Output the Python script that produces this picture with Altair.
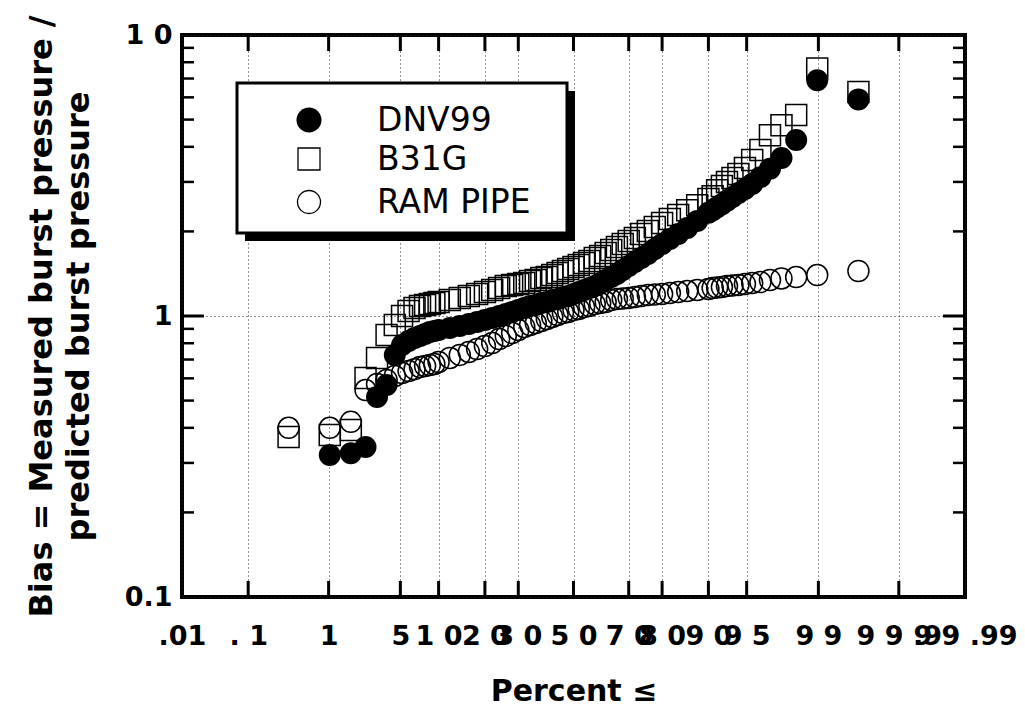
import altair as alt
import pandas as pd
from statistics import NormalDist

# ---------------- data ----------------
percent = [0.34, 1.03, 1.72, 2.41, 3.10, 3.79, 4.48, 5.17, 5.86, 6.55, 7.24, 7.93, 8.62, 9.31, 10.0,
           12, 14, 16, 18, 20, 22, 24, 26, 28, 30, 32, 34, 36, 38, 40, 42, 44, 46, 48, 50,
           52, 54, 56, 58, 60, 62, 64, 66, 68, 70, 72, 74, 76, 78, 80, 82, 84, 86, 88,
           90.0, 90.69, 91.38, 92.07, 92.76, 93.45, 94.14, 94.83, 95.52, 96.21, 96.90, 97.59, 98.28, 98.97, 99.66]

dnv99 = [None, 0.320, 0.325, 0.342, 0.515, 0.568, 0.727, 0.789, 0.815, 0.835, 0.849, 0.863, 0.877, 0.884, 0.892,
         0.906, 0.921, 0.937, 0.952, 0.968, 0.984, 1.0, 1.016, 1.033, 1.050, 1.068, 1.085, 1.094, 1.112, 1.121,
         1.140, 1.150, 1.168, 1.178, 1.197,
         1.217, 1.238, 1.258, 1.279, 1.310, 1.343, 1.376, 1.411, 1.458, 1.506, 1.557, 1.609, 1.662, 1.732,
         1.805, 1.879, 1.958, 2.057, 2.18,
         2.33, 2.38, 2.44, 2.50, 2.57, 2.65, 2.74, 2.83, 2.95, 3.12, 3.34, 3.65, 4.23, 6.9, 5.9]

b31g = [0.371, 0.377, 0.393, 0.602, 0.709, 0.856, 0.929, 1.0, 1.042, 1.068, 1.085, 1.094, 1.103, 1.112, 1.121,
        1.140, 1.159, 1.178, 1.197, 1.217, 1.238, 1.258, 1.279, 1.289, 1.300, 1.310, 1.332, 1.343, 1.365, 1.376,
        1.399, 1.422, 1.446, 1.470, 1.494,
        1.519, 1.544, 1.570, 1.609, 1.635, 1.676, 1.718, 1.760, 1.805, 1.850, 1.896, 1.958, 2.006, 2.074,
        2.143, 2.216, 2.287, 2.38, 2.48,
        2.61, 2.67, 2.80, 2.90, 3.00, 3.10, 3.20, 3.36, 3.59, 3.90, 4.40, 4.77, 5.19, 7.6, 6.27]

ram_pipe = [0.40, 0.40, 0.42, 0.545, 0.573, 0.592, 0.612, 0.627, 0.637, 0.647, 0.658, 0.664, 0.669, 0.675, 0.686,
            0.709, 0.727, 0.745, 0.763, 0.782, 0.801, 0.828, 0.849, 0.870, 0.892, 0.914, 0.929, 0.944, 0.960, 0.976,
            0.992, 1.008, 1.025, 1.033, 1.050,
            1.059, 1.077, 1.085, 1.103, 1.112, 1.121, 1.140, 1.150, 1.154, 1.159, 1.168, 1.178, 1.188, 1.192,
            1.197, 1.207, 1.217, 1.227, 1.238,
            1.248, 1.258, 1.263, 1.268, 1.279, 1.284, 1.289, 1.300, 1.310, 1.321, 1.343, 1.360, 1.376, 1.399, 1.446]

legend_labels = ["DNV99", "B31G", "RAM PIPE"]
tick_percent = [0.01, 0.1, 1, 5, 10, 20, 30, 50, 70, 80, 90, 95, 99, 99.9, 99.99]
tick_text = [".01", ". 1", "1", "5", "1 0", "2 0", "3 0", "5 0", "7 0", "8 0", "9 0",
             "9 5", "9 9", "9 9 .9", "9 9 .99"]
y_ticks = [0.1, 1, 10]
y_title = ["Bias = Measured burst pressure /", "predicted burst pressure"]
x_title = "Percent \u2264"
y_minor = [0.2, 0.3, 0.4, 0.5, 0.6, 0.7, 0.8, 0.9, 2, 3, 4, 5, 6, 7, 8, 9]

# ---------------- layout ----------------
W, H = 783, 562
FONT = "DejaVu Sans"
nd = NormalDist()
z_ticks = [nd.inv_cdf(p / 100) for p in tick_percent]
zdom = [z_ticks[0], z_ticks[-1]]

rows = []
for name, vals in (("DNV99", dnv99), ("B31G", b31g), ("RAM PIPE", ram_pipe)):
    for p, v in zip(percent, vals):
        if v is not None:
            rows.append({"series": name, "pct": p, "bias": v})
df = pd.DataFrame(rows)

label_expr = "".join(
    f"abs(datum.value - ({z:.6f})) < 0.0005 ? '{t}' : " for z, t in zip(z_ticks, tick_text)
) + "''"

xscale = alt.Scale(domain=zdom, nice=False, zero=False)
yscale = alt.Scale(type="log", domain=[0.1, 10], nice=False)

x_axis = alt.Axis(values=z_ticks, labelExpr=label_expr, grid=True, gridDash=[1, 3],
                  gridColor="#222222", gridWidth=1, ticks=False, domain=False,
                  labelFont=FONT, labelFontWeight="bold", labelFontSize=27, labelColor="black",
                  labelPadding=26, labelOverlap=False, labelFlush=False, labelBound=False,
                  title=x_title, titleFont=FONT, titleFontSize=30, titleFontWeight="bold",
                  titleColor="black", titleY=103, titleBaseline="alphabetic")
y_axis = alt.Axis(values=y_ticks,
                  labelExpr="datum.value > 5 ? '1 0' : (datum.value > 0.5 ? '1' : '0.1')",
                  grid=True, gridDash=[1, 3], gridColor="#222222", gridWidth=1,
                  ticks=False, domain=False, labelFont=FONT, labelFontWeight="bold",
                  labelFontSize=27, labelColor="black", labelPadding=10, labelOverlap=False,
                  labelFlush=False, labelBound=False,
                  title=y_title, titleFont=FONT, titleFontSize=32, titleFontWeight="bold",
                  titleColor="black", titleX=-131, titleY=281, titleAngle=270,
                  titleAlign="center", titleBaseline="alphabetic", titleLineHeight=37)

X = alt.X("z:Q", scale=xscale, axis=x_axis)
Y = alt.Y("bias:Q", scale=yscale, axis=y_axis)

base = alt.Chart(df).transform_calculate(z="quantileNormal(datum.pct / 100)")

squares = base.transform_filter("datum.series == 'B31G'").mark_point(
    shape="square", filled=False, color="black", size=441, strokeWidth=1.5, opacity=1
).encode(x=X, y=Y)

open_circles = base.transform_filter("datum.series == 'RAM PIPE'").mark_point(
    shape="circle", filled=False, color="black", size=441, strokeWidth=1.5, opacity=1
).encode(x=X, y=Y)

filled = base.transform_filter("datum.series == 'DNV99'").mark_point(
    shape="circle", filled=True, color="black", size=484, opacity=1
).encode(x=X, y=Y)

# inward ticks
xt = alt.Chart(pd.DataFrame({"pct": tick_percent[1:-1]})).transform_calculate(
    z="quantileNormal(datum.pct / 100)")
xt_top = xt.mark_rule(color="black", strokeWidth=3).encode(
    x=X, y=alt.value(0), y2=alt.value(16))
xt_bot = xt.mark_rule(color="black", strokeWidth=3).encode(
    x=X, y=alt.value(H), y2=alt.value(H - 16))

YV = alt.Y("v:Q", scale=yscale, axis=y_axis)
ymaj = alt.Chart(pd.DataFrame({"v": [1]}))
ymin = alt.Chart(pd.DataFrame({"v": y_minor}))
yt = []
for src, ln, sw in ((ymaj, 22, 3), (ymin, 12, 2.5)):
    yt.append(src.mark_rule(color="black", strokeWidth=sw).encode(
        y=YV, x=alt.value(0), x2=alt.value(ln)))
    yt.append(src.mark_rule(color="black", strokeWidth=sw).encode(
        y=YV, x=alt.value(W), x2=alt.value(W - ln)))

# legend box
one = pd.DataFrame({"k": [0]})
shadow = alt.Chart(one).mark_rect(color="black").encode(
    x=alt.value(63), x2=alt.value(393), y=alt.value(56), y2=alt.value(206))
box = alt.Chart(one).mark_rect(fill="white", stroke="black", strokeWidth=3).encode(
    x=alt.value(55), x2=alt.value(385), y=alt.value(48), y2=alt.value(198))
leg = []
sym_specs = [("circle", True, 625, 85), ("square", False, 484, 124), ("circle", False, 529, 167)]
for lab, (shp, fil, sz, yy) in zip(legend_labels, sym_specs):
    d = alt.Chart(pd.DataFrame({"label": [lab]}))
    leg.append(d.mark_point(shape=shp, filled=fil, color="black", size=sz, strokeWidth=1.3,
                            opacity=1).encode(x=alt.value(127), y=alt.value(yy)))
    leg.append(d.mark_text(align="left", baseline="middle", font=FONT, fontSize=33,
                           color="black").encode(x=alt.value(195), y=alt.value(yy + 1),
                                                 text="label:N"))

chart = alt.layer(
    squares, open_circles, filled, xt_top, xt_bot, *yt, shadow, box, *leg
).properties(
    width=W, height=H,
    autosize=alt.AutoSizeParams(type="none"),
    padding={"left": 174, "top": 27, "right": 52, "bottom": 110},
).configure_view(stroke="black", strokeWidth=4)

chart.save("out.html", embed_options={"renderer": "svg", "actions": False})
